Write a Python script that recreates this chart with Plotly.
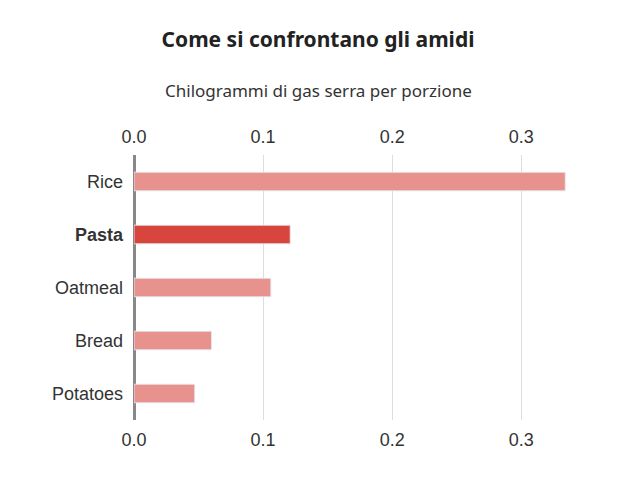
import plotly.graph_objects as go

categories = ["Rice", "Pasta", "Oatmeal", "Bread", "Potatoes"]
values = [0.334, 0.121, 0.106, 0.060, 0.047]
colors = ["#e8928e", "#d8453c", "#e8928e", "#e8928e", "#e8928e"]
labels = ["Rice", "<b>Pasta</b>", "Oatmeal", "Bread", "Potatoes"]
tickvals = [0, 0.1, 0.2, 0.3]
ticktext = ["0.0", "0.1", "0.2", "0.3"]

W, H = 638, 485
T, B = 147, 73
L = 126
pw = W - L - 73
ph = H - T - B
fig = go.Figure()
fig.add_trace(go.Bar(x=values, y=categories, orientation="h", marker_color=colors,
                     width=0.35, hoverinfo="skip"))
fig.add_trace(go.Bar(x=values, y=categories, orientation="h", xaxis="x2",
                     marker_color="rgba(0,0,0,0)", width=0.35, hoverinfo="skip", showlegend=False))
ax = dict(range=[0, 0.34], tickvals=tickvals, ticktext=ticktext, showgrid=True,
          gridcolor="#dddddd", zeroline=True, zerolinecolor="#888888", zerolinewidth=3,
          tickfont=dict(size=18, color="#333", family="Liberation Sans"), ticks="",
          ticklabelstandoff=7, fixedrange=True, automargin=False)
fig.update_layout(
    width=W, height=H, showlegend=False, plot_bgcolor="white", paper_bgcolor="white",
    margin=dict(l=L, r=73, t=T, b=B),
    xaxis=dict(**ax, side="bottom"),
    xaxis2=dict(**ax, side="top", overlaying="x"),
    yaxis=dict(autorange="reversed", tickvals=categories, ticktext=labels, ticks="",
               automargin=False,
               tickfont=dict(size=18, color="#333", family="Liberation Sans"), ticklabelstandoff=10),
    bargap=0.5,
    title=dict(text="<b>Come si confrontano gli amidi</b>", xref="container",
               x=(318 - 8) / W, xanchor="center",
               yref="container", y=1 - 32 / H, yanchor="middle",
               font=dict(size=21, color="#222", family="Noto Sans")),
    annotations=[dict(text="Chilogrammi di gas serra per porzione",
                      x=(318 - 8 - L) / pw, y=(H - B - 82) / ph,
                      xref="paper", yref="paper", xanchor="center", yanchor="middle",
                      showarrow=False, font=dict(size=17, color="#333", family="Noto Sans"))],
)
fig.write_html("out.html")
